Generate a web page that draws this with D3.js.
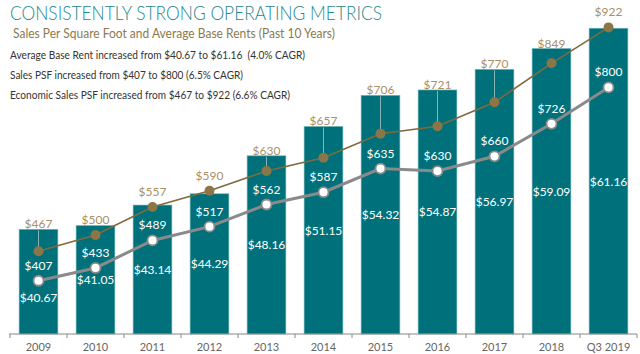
<!DOCTYPE html>
<html>
<head>
<meta charset="utf-8">
<script src="https://cdn.jsdelivr.net/npm/d3@7"></script>
<style>
  body { margin: 0; background: #fff; }
  svg { display: block; font-family: Lato, "Open Sans", sans-serif; }
  text { white-space: pre; }
</style>
</head>
<body>
<svg id="chart" width="640" height="354"></svg>
<script>
// chart data
const years = ["2009", "2010", "2011", "2012", "2013", "2014", "2015", "2016", "2017", "2018", "Q3 2019"];
const baseRent = [40.67, 41.05, 43.14, 44.29, 48.16, 51.15, 54.32, 54.87, 56.97, 59.09, 61.16];
const salesPSF = [407, 433, 489, 517, 562, 587, 635, 630, 660, 726, 800];
const econSalesPSF = [467, 500, 557, 590, 630, 657, 706, 721, 770, 849, 922];

const titleText = "CONSISTENTLY STRONG OPERATING METRICS";
const subtitleText = "Sales Per Square Foot and Average Base Rents (Past 10 Years)";
const notes = [
  "Average Base Rent increased from $40.67 to $61.16  (4.0% CAGR)",
  "Sales PSF increased from $407 to $800 (6.5% CAGR)",
  "Economic Sales PSF increased from $467 to $922 (6.6% CAGR)"
];

const svg = d3.select("#chart");
const baseline = 334;

// x band for the years
var x = d3.scaleBand()
  .domain(years)
  .range([10, 637])
  .paddingInner(0.32)
  .paddingOuter(0.16);

// bars (base rent) use their own truncated scale
var yRent = d3.scaleLinear().domain([30, 62]).range([baseline, 20]);
// both PSF lines share one scale
var yPSF = d3.scaleLinear().domain([300, 960]).range([333.4, 8.7]);

// header texts
svg.append("text")
  .attr("x", 10).attr("y", 20)
  .attr("font-size", 19).attr("font-weight", 300).attr("fill", "#23888b")
  .attr("textLength", 372).attr("lengthAdjust", "spacingAndGlyphs")
  .text(titleText);

svg.append("text")
  .attr("x", 13).attr("y", 38)
  .attr("font-size", 13).attr("fill", "#8c7a4e")
  .attr("textLength", 322).attr("lengthAdjust", "spacingAndGlyphs")
  .text(subtitleText);

const noteWidths = [295, 233, 280];
notes.forEach((t, i) => {
  svg.append("text")
    .attr("x", 10).attr("y", 59 + i * 20)
    .attr("font-size", 11).attr("fill", "#333")
    .attr("textLength", noteWidths[i]).attr("lengthAdjust", "spacingAndGlyphs")
    .text(t);
});

// bars
svg.append("g").selectAll("rect")
  .data(years)
  .enter()
  .append("rect")
  .attr("x", d => x(d))
  .attr("y", (d, i) => yRent(baseRent[i]))
  .attr("width", x.bandwidth())
  .attr("height", (d, i) => baseline - yRent(baseRent[i]))
  .attr("fill", "#00717b")
  .attr("stroke", "#6fb3b6")
  .attr("stroke-width", 0.6);

// label positions for economic sales psf: above bar top or above the point, whichever is higher
const econLabelY = years.map((d, i) => Math.min(yRent(baseRent[i]) - 1, yPSF(econSalesPSF[i]) - 11));

// leader lines from the label down to the point
svg.append("g").selectAll("line")
  .data(years.filter((d, i) => yPSF(econSalesPSF[i]) - econLabelY[i] > 16))
  .enter()
  .append("line")
  .attr("x1", d => x(d) + x.bandwidth() / 2)
  .attr("x2", d => x(d) + x.bandwidth() / 2)
  .attr("y1", d => econLabelY[years.indexOf(d)] + 2)
  .attr("y2", d => yPSF(econSalesPSF[years.indexOf(d)]))
  .attr("stroke", "#a9c4c4")
  .attr("stroke-width", 0.8);

const cx = d => x(d) + x.bandwidth() / 2;

// sales psf line (gray, white markers)
svg.append("path")
  .datum(years)
  .attr("fill", "none")
  .attr("stroke", "#8a8a8a")
  .attr("stroke-width", 3)
  .attr("d", d3.line().x(d => cx(d)).y((d, i) => yPSF(salesPSF[i])));

svg.append("g").selectAll("circle")
  .data(years)
  .enter()
  .append("circle")
  .attr("cx", d => cx(d))
  .attr("cy", (d, i) => yPSF(salesPSF[i]))
  .attr("r", 5)
  .attr("fill", "#fff")
  .attr("stroke", "#8a8a8a")
  .attr("stroke-width", 1.8);

// economic sales psf line (brown)
svg.append("path")
  .datum(years)
  .attr("fill", "none")
  .attr("stroke", "#7f6a3c")
  .attr("stroke-width", 1.6)
  .attr("d", d3.line().x(d => cx(d)).y((d, i) => yPSF(econSalesPSF[i])));

svg.append("g").selectAll("circle")
  .data(years)
  .enter()
  .append("circle")
  .attr("cx", d => cx(d))
  .attr("cy", (d, i) => yPSF(econSalesPSF[i]))
  .attr("r", 5)
  .attr("fill", "#8b7647");

// value labels
const labels = svg.append("g").attr("text-anchor", "middle").attr("font-size", 12);

labels.selectAll(".econ")
  .data(years)
  .enter()
  .append("text")
  .attr("x", d => cx(d))
  .attr("y", (d, i) => econLabelY[i])
  .attr("fill", "#a89068")
  .text((d, i) => "$" + econSalesPSF[i]);

labels.selectAll(".psf")
  .data(years)
  .enter()
  .append("text")
  .attr("x", d => cx(d))
  .attr("y", (d, i) => yPSF(salesPSF[i]) - 11)
  .attr("fill", "#fff")
  .text((d, i) => "$" + salesPSF[i]);

// rent labels sit in the middle of the bar, pushed below the gray point if they would collide
labels.selectAll(".rent")
  .data(years)
  .enter()
  .append("text")
  .attr("x", d => cx(d))
  .attr("y", (d, i) => {
    let mid = (yRent(baseRent[i]) + baseline) / 2;
    let p = yPSF(salesPSF[i]);
    if (Math.abs(mid - p) < 8) mid = p + 17;
    return mid + 4.5;
  })
  .attr("fill", "#fff")
  .text((d, i) => "$" + baseRent[i].toFixed(2));

// axis line with ticks between the bands
const axis = svg.append("g").attr("stroke", "#888").attr("stroke-width", 1);
axis.append("line").attr("x1", 9).attr("x2", 637).attr("y1", baseline).attr("y2", baseline);
const bounds = years.map(d => x(d) - x.step() * x.paddingInner() / 2).concat([637]);
axis.selectAll(".tk")
  .data(bounds)
  .enter()
  .append("line")
  .attr("x1", d => d).attr("x2", d => d)
  .attr("y1", baseline).attr("y2", baseline + 4);

svg.append("g").selectAll("text")
  .data(years)
  .enter()
  .append("text")
  .attr("x", d => cx(d))
  .attr("y", 351)
  .attr("text-anchor", "middle")
  .attr("font-size", 11)
  .attr("fill", "#666")
  .text(d => d);
</script>
</body>
</html>
